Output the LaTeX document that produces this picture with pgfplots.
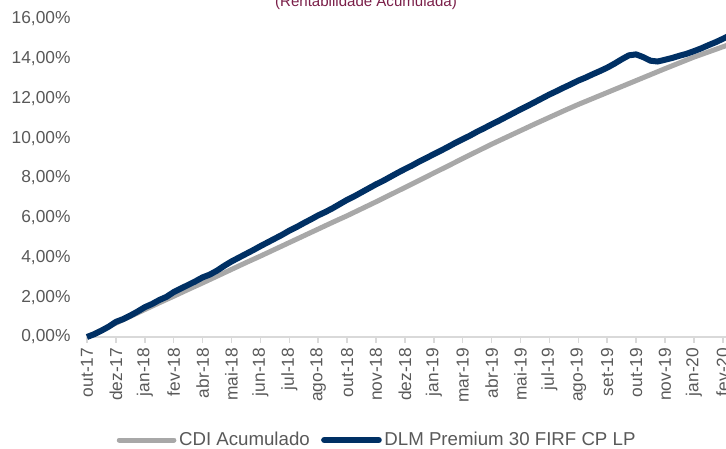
\documentclass[border=0pt]{standalone}
\usepackage{pgfplots}
\pgfplotsset{compat=1.18}
\usepackage{fontspec}
\setmainfont{Liberation Sans}
\definecolor{cdigray}{RGB}{168,168,168}
\definecolor{dlmnavy}{RGB}{0,48,100}
\definecolor{ticktext}{RGB}{89,89,89}
\definecolor{axisgray}{RGB}{217,217,217}
\definecolor{titlered}{RGB}{122,30,72}
\begin{document}
\begin{tikzpicture}
\useasboundingbox (0,0) rectangle (544.5pt,336.75pt);
\clip (0,0) rectangle (544.5pt,336.75pt);
\node[anchor=base, text=titlered, font=\fontsize{11.3pt}{13pt}\selectfont] at (274.5pt,332.2pt) {(Rentabilidade Acumulada)};
\begin{axis}[
  at={(65.25pt,84pt)}, anchor=south west,
  scale only axis, width=498.5pt, height=238.5pt,
  xmin=0, xmax=23, ymin=0, ymax=16,
  clip=false,
  axis lines*=left,
  x axis line style={draw=axisgray, line width=1.1pt, -},
  y axis line style={draw=none},
  xtick={0,...,22},
  xticklabels={out-17,dez-17,jan-18,fev-18,abr-18,mai-18,jun-18,jul-18,ago-18,out-18,nov-18,dez-18,jan-19,mar-19,abr-19,mai-19,jul-19,ago-19,set-19,out-19,nov-19,jan-20,fev-20},
  ytick={0,2,...,16},
  yticklabels={{0,00\%},{2,00\%},{4,00\%},{6,00\%},{8,00\%},{10,00\%},{12,00\%},{14,00\%},{16,00\%}},
  tick align=outside,
  x tick style={draw=axisgray, line width=1.1pt},
  y tick style={draw=none},
  major tick length=4.5pt,
  xticklabel shift=3.5pt,
  xticklabel style={rotate=90, anchor=east, inner sep=0pt, text=ticktext, font=\fontsize{13pt}{15pt}\selectfont},
  yticklabel style={anchor=east, inner sep=0pt, xshift=-7.7pt, text=ticktext, font=\fontsize{13pt}{15pt}\selectfont},
  legend columns=2,
  legend style={at={(0.437,-0.324)}, anchor=center, draw=none, fill=none,
    font=\fontsize{14pt}{16pt}\selectfont, text=ticktext,
    /tikz/every even column/.append style={column sep=6.5pt}},
  legend cell align=left,
  legend image code/.code={\draw[#1, line cap=round] (0pt,0pt) -- (41pt,0pt);},
]
\addplot[color=cdigray, line width=3.75pt, line join=round] coordinates {
(0,0) (0.5,0.34) (1,0.70) (1.5,1.04) (2,1.38) (2.5,1.72) (3,2.05) (3.5,2.39) (4,2.72)
(4.5,3.06) (5,3.40) (5.5,3.74) (6,4.07) (6.5,4.41) (7,4.75) (7.5,5.09) (8,5.43)
(8.5,5.77) (9,6.10) (9.5,6.45) (10,6.80) (10.5,7.16) (11,7.52) (11.5,7.88) (12,8.25)
(12.5,8.61) (13,8.98) (13.5,9.34) (14,9.70) (14.5,10.04) (15,10.38) (15.5,10.72)
(16,11.05) (16.5,11.38) (17,11.70) (17.5,12.00) (18,12.30) (18.5,12.60) (19,12.90)
(19.5,13.20) (20,13.50) (20.5,13.79) (21,14.08) (21.5,14.34) (22,14.60) (22.5,14.85) (23,15.08)
};
\addlegendentry{CDI Acumulado}
\addplot[color=dlmnavy, line width=4.5pt, line join=round] coordinates {
(0,0) (0.25,0.14) (0.5,0.32) (0.75,0.52) (1,0.76) (1.25,0.90) (1.5,1.08) (1.75,1.28)
(2,1.50) (2.25,1.66) (2.5,1.86) (2.75,2.02) (3,2.26) (3.25,2.44) (3.5,2.62) (3.75,2.80)
(4,3.00) (4.25,3.14) (4.5,3.34) (4.75,3.58) (5,3.80) (5.25,3.99) (5.5,4.18) (5.75,4.37)
(6,4.57) (6.25,4.76) (6.5,4.95) (6.75,5.14) (7,5.35) (7.25,5.53) (7.5,5.73) (7.75,5.92)
(8,6.12) (8.25,6.29) (8.5,6.48) (8.75,6.69) (9,6.90) (9.25,7.08) (9.5,7.28) (9.75,7.48)
(10,7.68) (10.25,7.86) (10.5,8.06) (10.75,8.26) (11,8.45) (11.25,8.63) (11.5,8.83)
(11.75,9.01) (12,9.20) (12.25,9.38) (12.5,9.57) (12.75,9.77) (13,9.95) (13.25,10.13)
(13.5,10.33) (13.75,10.51) (14,10.70) (14.25,10.88) (14.5,11.07) (14.75,11.26)
(15,11.45) (15.25,11.63) (15.5,11.82) (15.75,12.01) (16,12.20) (16.25,12.37)
(16.5,12.55) (16.75,12.72) (17,12.90) (17.25,13.05) (17.5,13.22) (17.75,13.38)
(18,13.55) (18.25,13.75) (18.5,13.97) (18.75,14.17) (19,14.22) (19.25,14.08)
(19.5,13.90) (19.75,13.86) (20,13.95) (20.25,14.04) (20.5,14.15) (20.75,14.25)
(21,14.38) (21.25,14.52) (21.5,14.68) (21.75,14.83) (22,15.00) (22.25,15.18) (22.5,15.33) (23,15.60)
};
\addlegendentry{DLM Premium 30 FIRF CP LP}
\end{axis}
\end{tikzpicture}
\end{document}
